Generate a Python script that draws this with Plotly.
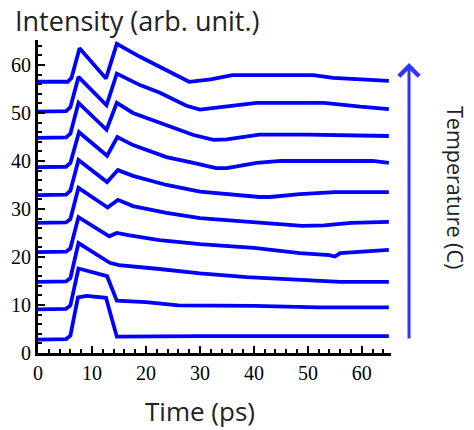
import plotly.graph_objects as go

# Time (ps) and intensity for each temperature trace (bottom -> top)
t1 = [0, 5.2, 6.0, 7.4, 9.0, 12.6, 14.6, 30, 65]
y1 = [2.8, 2.9, 3.6, 11.6, 11.9, 11.5, 3.4, 3.5, 3.5]

t2 = [0, 5.2, 6.0, 7.5, 12.8, 14.6, 20, 26, 40, 52, 65]
y2 = [9.1, 9.2, 9.9, 17.6, 16.0, 10.9, 10.6, 9.9, 9.8, 9.5, 9.5]

t3 = [0, 5.2, 6.0, 7.5, 13.3, 15, 22.5, 30, 38.7, 48, 56, 65]
y3 = [14.8, 14.9, 15.6, 22.9, 18.8, 18.3, 17.5, 16.6, 15.8, 15.3, 14.8, 14.8]

t4 = [0, 5.2, 6.0, 7.5, 13.2, 14.6, 17, 22.5, 30, 40, 48.5, 54, 55, 56, 65]
y4 = [21.0, 21.1, 21.8, 28.3, 24.3, 25.0, 24.5, 23.5, 22.7, 21.9, 20.8, 20.4, 20.1, 20.8, 21.5]

t5 = [0, 5.2, 6.0, 7.5, 12.9, 14.8, 17.6, 23.8, 30, 40, 45, 49, 53, 58, 65]
y5 = [27.1, 27.2, 27.9, 34.4, 30.3, 31.9, 30.6, 29.2, 28.1, 27.3, 26.8, 26.5, 26.6, 27.1, 27.3]

t6 = [0, 5.2, 6.0, 7.5, 12.8, 14.8, 17.6, 23.8, 30, 36, 41, 43, 48.5, 55, 65]
y6 = [32.9, 33.0, 33.8, 40.2, 35.6, 38.1, 36.9, 35.0, 33.6, 32.9, 32.5, 32.5, 33.1, 33.5, 33.5]

t7 = [0, 5.2, 6.0, 7.6, 12.8, 14.7, 17.6, 23.8, 28.8, 33, 35, 40.5, 45, 62, 65]
y7 = [38.7, 38.8, 39.6, 46.0, 41.1, 45.0, 43.3, 40.8, 39.6, 38.5, 38.5, 39.6, 40.0, 40.0, 39.6]

t8 = [0, 5.2, 6.0, 7.5, 12.7, 14.6, 17.6, 23.8, 28.8, 32.5, 35, 41, 50, 65]
y8 = [44.8, 44.9, 45.7, 52.1, 46.5, 52.1, 50.0, 47.5, 45.4, 44.4, 44.5, 45.5, 45.5, 45.2]

t9 = [0, 5.2, 6.0, 7.5, 12.7, 14.6, 18.9, 22.6, 27.5, 30, 40.5, 53, 59.7, 65]
y9 = [50.3, 50.4, 51.2, 57.5, 51.6, 58.2, 55.8, 54.2, 51.5, 50.7, 52.1, 52.1, 51.3, 50.8]

t10 = [0, 5.5, 6.2, 7.7, 12.6, 14.6, 18.9, 22.6, 25.5, 28, 32, 36, 51, 54.7, 65]
y10 = [56.5, 56.5, 57.3, 63.5, 57.2, 64.4, 61.7, 59.6, 57.8, 56.5, 57.0, 57.9, 57.9, 57.3, 56.7]

series = [(t1, y1), (t2, y2), (t3, y3), (t4, y4), (t5, y5),
          (t6, y6), (t7, y7), (t8, y8), (t9, y9), (t10, y10)]

x_ticks = [0, 10, 20, 30, 40, 50, 60]
y_ticks = [0, 10, 20, 30, 40, 50, 60]

fig = go.Figure()
for t, y in series:
    fig.add_trace(go.Scatter(x=t, y=y, mode="lines",
                             line=dict(color="#0000ff", width=3.8),
                             showlegend=False, hoverinfo="skip"))

tickfont = dict(family="Liberation Serif", size=20, color="black")
fig.update_layout(
    width=474, height=430,
    margin=dict(l=38, r=83, t=40, b=77),
    plot_bgcolor="white", paper_bgcolor="white",
    xaxis=dict(range=[0, 65.4], tickvals=x_ticks, ticks="inside", ticklen=7,
               tickwidth=2, tickcolor="black", showline=True, linecolor="black",
               linewidth=3, showgrid=False, zeroline=False, tickfont=tickfont,
               minor=dict(dtick=2, ticks="inside", ticklen=4, tickwidth=2,
                          tickcolor="black", showgrid=False)),
    yaxis=dict(range=[0, 65.2], tickvals=y_ticks, ticks="inside", ticklen=7,
               tickwidth=2, tickcolor="black", showline=True, linecolor="black",
               linewidth=3, showgrid=False, zeroline=False, tickfont=tickfont,
               ticklabelstandoff=0,
               minor=dict(dtick=2, ticks="inside", ticklen=4, tickwidth=2,
                          tickcolor="black", showgrid=False)),
)

fig.add_annotation(text="Intensity (arb. unit.)", xref="paper", yref="paper",
                   x=(13-38)/353, y=1 + (40-20)/313, xanchor="left", yanchor="middle",
                   showarrow=False, font=dict(family="Open Sans", size=27, color="#222222"))
fig.add_annotation(text="Time (ps)", xref="paper", yref="paper",
                   x=(200-38)/353, y=-(411-353)/313, xanchor="center", yanchor="middle",
                   showarrow=False, font=dict(family="Open Sans", size=26, color="#222222"))
fig.add_annotation(text="Temperature (C)", xref="paper", yref="paper",
                   x=(456-38)/353, y=(353-187)/313, xanchor="center", yanchor="middle",
                   textangle=90, showarrow=False,
                   font=dict(family="Open Sans", size=21.5, color="#222222"))
# Temperature arrow
fig.add_annotation(text="", xref="paper", yref="paper",
                   x=(409-38)/353, y=(353-63)/313,
                   ax=0, ay=277, axref="pixel", ayref="pixel",
                   showarrow=True, arrowhead=4, arrowsize=1.3, arrowwidth=3,
                   arrowcolor="#3333ff")

fig.write_html("out.html")
